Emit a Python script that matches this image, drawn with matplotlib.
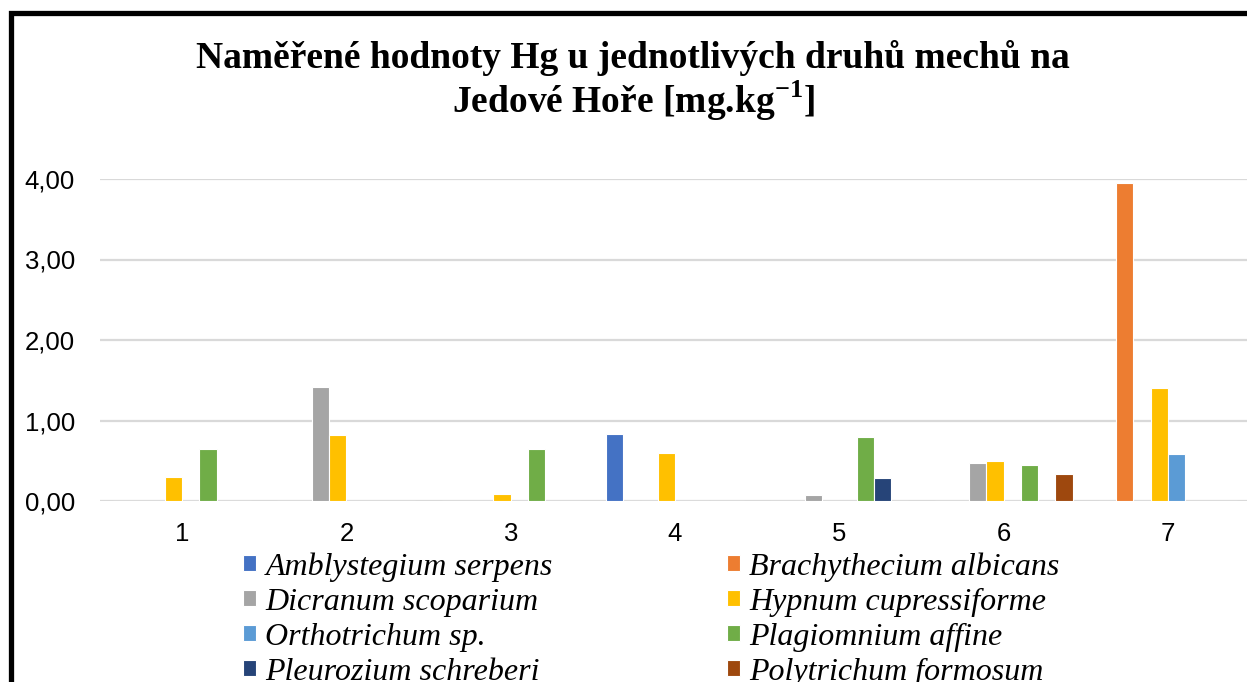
import matplotlib.pyplot as plt
from matplotlib.patches import Rectangle
import numpy as np

plt.rcParams['mathtext.fontset'] = 'custom'
plt.rcParams['mathtext.bf'] = 'Liberation Serif:bold'
plt.rcParams['mathtext.rm'] = 'Liberation Serif:bold'

# data
sites = ["1", "2", "3", "4", "5", "6", "7"]
species = ["Amblystegium serpens", "Brachythecium albicans", "Dicranum scoparium",
           "Hypnum cupressiforme", "Orthotrichum sp.", "Plagiomnium affine",
           "Pleurozium schreberi", "Polytrichum formosum"]
amblystegium = [0, 0, 0, 0.83, 0, 0, 0]
brachythecium = [0, 0, 0, 0, 0, 0, 3.95]
dicranum = [0, 1.41, 0, 0, 0.08, 0.47, 0]
hypnum = [0.30, 0.82, 0.09, 0.60, 0, 0.50, 1.40]
orthotrichum = [0, 0, 0, 0, 0, 0, 0.59]
plagiomnium = [0.65, 0, 0.65, 0, 0.80, 0.45, 0]
pleurozium = [0, 0, 0, 0, 0.28, 0, 0]
polytrichum = [0, 0, 0, 0, 0, 0.34, 0]
series = [amblystegium, brachythecium, dicranum, hypnum,
          orthotrichum, plagiomnium, pleurozium, polytrichum]
colors = ["#4472C4", "#ED7D31", "#A5A5A5", "#FFC000",
          "#5B9BD5", "#70AD47", "#264478", "#9E480E"]

W, H = 1247, 682
fig = plt.figure(figsize=(W / 100, H / 100), dpi=100)
ax = fig.add_axes([100 / W, 1 - 501 / H, 1150 / W, (501 - 179) / H])

x = np.arange(1, len(sites) + 1)
bw = 0.105
handles = []
for i, vals in enumerate(series):
    b = ax.bar(x + (i - 3.5) * bw, vals, width=bw, color=colors[i],
               edgecolor="white", linewidth=0.8, zorder=3, label=species[i])
    handles.append(b)

ax.set_xlim(0.5, 7.5)
ax.set_ylim(0, 4)
ax.set_yticks([0, 1, 2, 3, 4])
ax.set_yticklabels(["0,00", "1,00", "2,00", "3,00", "4,00"])
ax.set_xticks(x)
ax.set_xticklabels(sites)
ax.grid(axis="y", color="#d9d9d9", linewidth=1.6, zorder=0)
ax.set_axisbelow(True)
for s in ax.spines.values():
    s.set_visible(False)
ax.tick_params(axis="both", length=0, labelsize=18.5)
ax.tick_params(axis="y", pad=18)
ax.tick_params(axis="x", pad=15)
for lab in ax.get_xticklabels() + ax.get_yticklabels():
    lab.set_fontfamily("Liberation Sans")

# title
fig.text(633 / W, 1 - 68 / H, "Naměřené hodnoty Hg u jednotlivých druhů mechů na",
         ha="center", va="baseline", fontsize=27, fontweight="bold",
         family="Liberation Serif")
fig.text(633 / W, 1 - 113 / H, r"Jedové Hoře [mg.kg$^{\mathbf{-1}}$]",
         ha="center", va="baseline", fontsize=27, fontweight="bold",
         family="Liberation Serif")

# legend, two columns
leg_font = {"family": "Liberation Serif", "style": "italic", "size": 23}
for col, x0 in [(0, 243), (1, 727)]:
    idx = [col, col + 2, col + 4, col + 6]
    leg = fig.legend([handles[k] for k in idx], [species[k] for k in idx],
                     loc="upper left", bbox_to_anchor=(x0 / W, 1 - 552 / H),
                     frameon=False, prop=leg_font, handlelength=0.4,
                     handleheight=0.4, handletextpad=0.3, labelspacing=0.19,
                     borderpad=0, borderaxespad=0)

# outer frame
fig.add_artist(Rectangle((11 / W, -0.1), 1.2, 1.1 - 13 / H, transform=fig.transFigure,
                         fill=False, edgecolor="black", linewidth=3.8))

fig.savefig("out.png", dpi=100)
